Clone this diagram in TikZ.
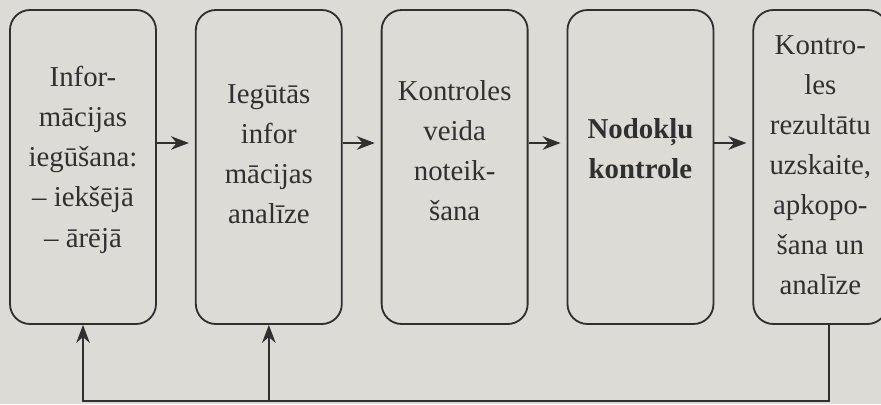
\documentclass[tikz,border=0pt]{standalone}
\usepackage{fontspec}
\setmainfont{Liberation Serif}
\usepackage{xcolor}
\usepackage{tikz}
\usetikzlibrary{arrows.meta,positioning}

\definecolor{paper}{RGB}{221,219,214}
\definecolor{ink}{RGB}{48,48,48}

\begin{document}
\begin{tikzpicture}[
    node distance=0.95cm and 0.95cm,
    box/.style={rectangle, draw=ink, line width=1.3pt, rounded corners=0.5cm, minimum width=3.65cm, minimum height=7.85cm},
    txt/.style={align=center, text=ink, inner sep=0pt, font=\fontsize{20.5}{28.5}\selectfont},
    arrow/.style={-{Stealth[length=4.5mm, width=3.4mm]}, draw=ink, line width=1.2pt},
]
\fill[paper] (0,0) rectangle (22.025,-10.1);
\useasboundingbox (0,0) rectangle (22.025,-10.1);
\node[box] (gather) at (2.075,-4.175) {};
\node[box, right=of gather] (analyse) {};
\node[box, right=of analyse] (kind) {};
\node[box, right=of kind] (tax) {};
\node[box, right=of tax, minimum width=3.35cm] (result) {};
% texts sit a little above the middle
\node[txt] (gatherT) at ([yshift=0.18cm]gather.center) {Infor-\\mācijas\\iegūšana:\\– iekšējā\\– ārējā};
\node[txt] (analyseT) at ([yshift=0.31cm]analyse.center) {Iegūtās\\infor\\mācijas\\analīze};
\node[txt] (kindT) at ([yshift=0.4cm]kind.center) {Kontroles\\veida\\noteik-\\šana};
\node[txt, font=\fontsize{20.5}{28.5}\selectfont\bfseries] (taxT) at ([yshift=0.45cm]tax.center) {Nodokļu\\kontrole};
\node[txt] (resultT) at ([yshift=0.05cm]result.center) {Kontro-\\les\\rezultātu\\uzskaite,\\apkopo-\\šana un\\analīze};
\coordinate (row) at (0,-3.575);
\coordinate (base) at (0,-10.03);
\coordinate (back) at ([xshift=2.2mm]result.south);
\draw[arrow, shorten >=1.5mm] (gather.east |- row) -- (analyse.west |- row);
\draw[arrow, shorten >=1.5mm] (analyse.east |- row) -- (kind.west |- row);
\draw[arrow, shorten >=1.5mm] (kind.east |- row) -- (tax.west |- row);
\draw[arrow, shorten >=1.5mm] (tax.east |- row) -- (result.west |- row);
\draw[arrow] (back) -- (back |- base) -| (gather.south);
\draw[arrow] (analyse.south |- base) -- (analyse.south);
\end{tikzpicture}
\end{document}
